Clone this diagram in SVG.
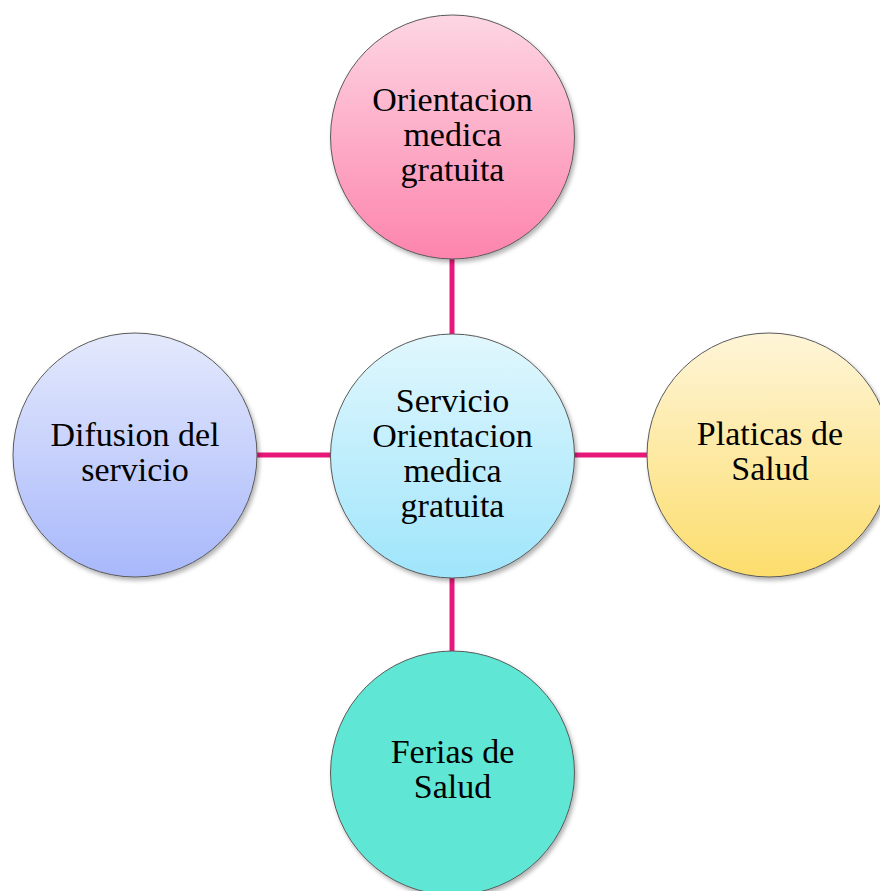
<svg xmlns="http://www.w3.org/2000/svg" width="880" height="891" viewBox="0 0 880 891">
<defs>
<linearGradient id="gPink" x1="0" y1="0" x2="0" y2="1"><stop offset="0" stop-color="#fdd6e3"/><stop offset="1" stop-color="#fd84ad"/></linearGradient>
<linearGradient id="gCyan" x1="0" y1="0" x2="0" y2="1"><stop offset="0" stop-color="#e1f7fd"/><stop offset="1" stop-color="#9fe5fb"/></linearGradient>
<linearGradient id="gBlue" x1="0" y1="0" x2="0" y2="1"><stop offset="0" stop-color="#e4e9fc"/><stop offset="1" stop-color="#a8b8fb"/></linearGradient>
<linearGradient id="gYellow" x1="0" y1="0" x2="0" y2="1"><stop offset="0" stop-color="#fef5d8"/><stop offset="1" stop-color="#fcdd6c"/></linearGradient>
<filter id="sh" x="-10%" y="-10%" width="125%" height="125%"><feDropShadow dx="2" dy="3" stdDeviation="2" flood-color="#000" flood-opacity="0.3"/></filter>
</defs>
<style>
.node{stroke:#5a5a5a;stroke-width:1;filter:url(#sh)}
.lbl{font-family:"Liberation Serif","DejaVu Serif",serif;font-size:34px;fill:#000;text-anchor:middle}
.conn{stroke:#e8187a;stroke-width:5;fill:none}
</style>
<rect width="880" height="891" fill="#fff"/>
<g id="connectors">
<line class="conn" x1="452" y1="258" x2="452" y2="334"/>
<line class="conn" x1="256" y1="455" x2="331" y2="455"/>
<line class="conn" x1="574" y1="455" x2="648" y2="455"/>
<line class="conn" x1="452" y1="578" x2="452" y2="652"/>
</g>
<g id="top">
<circle class="node" cx="452.5" cy="137" r="122" fill="url(#gPink)"/>
<text class="lbl" x="452.5" y="111">Orientacion</text>
<text class="lbl" x="452.5" y="146">medica</text>
<text class="lbl" x="452.5" y="181">gratuita</text>
</g>
<g id="center">
<circle class="node" cx="452.5" cy="456" r="122" fill="url(#gCyan)"/>
<text class="lbl" x="452.5" y="412">Servicio</text>
<text class="lbl" x="452.5" y="447">Orientacion</text>
<text class="lbl" x="452.5" y="482">medica</text>
<text class="lbl" x="452.5" y="517">gratuita</text>
</g>
<g id="left">
<circle class="node" cx="135" cy="455" r="122" fill="url(#gBlue)"/>
<text class="lbl" x="135" y="446">Difusion del</text>
<text class="lbl" x="135" y="481">servicio</text>
</g>
<g id="right">
<circle class="node" cx="769" cy="455" r="122" fill="url(#gYellow)"/>
<text class="lbl" x="770" y="445">Platicas de</text>
<text class="lbl" x="770" y="480">Salud</text>
</g>
<g id="bottom">
<circle class="node" cx="452.5" cy="773" r="122" fill="#5ee6d4"/>
<text class="lbl" x="452.5" y="763">Ferias de</text>
<text class="lbl" x="452.5" y="798">Salud</text>
</g>
</svg>
